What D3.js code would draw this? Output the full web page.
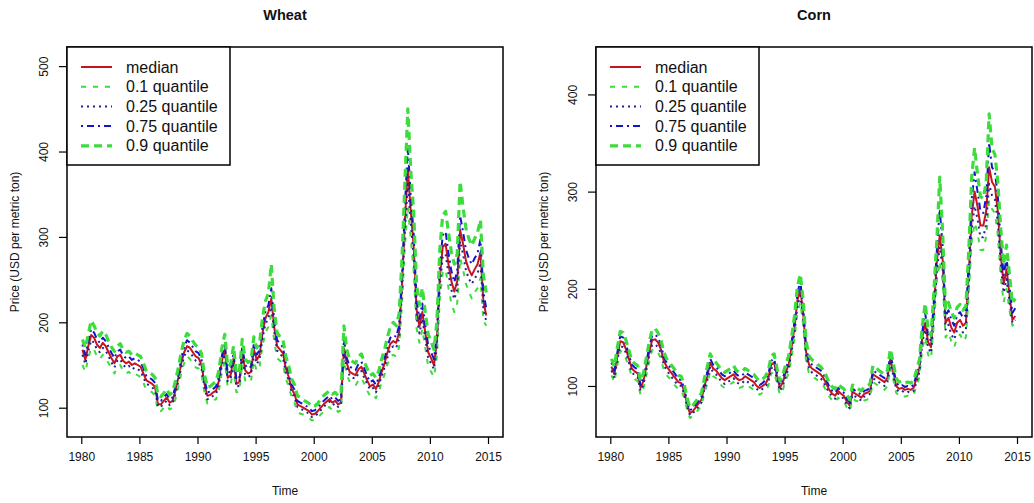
<!DOCTYPE html>
<html><head><meta charset="utf-8">
<script src="https://cdn.jsdelivr.net/npm/d3@7"></script>
<style>
html,body{margin:0;padding:0;background:#fff;}
svg{display:block;font-family:"Liberation Sans",Arial,Helvetica,sans-serif;}
</style></head>
<body><svg id="chart" width="1034" height="503"></svg>
<script>
// Quarterly samples starting 1980.1
const startYear = 1980.1, stepYears = 0.25;
const seriesNames = ["median","0.1 quantile","0.25 quantile","0.75 quantile","0.9 quantile"];
const xTicks = [1980,1985,1990,1995,2000,2005,2010,2015];
const wheatYTicks = [100,200,300,400,500];
const cornYTicks = [100,200,300,400];

const wheatMedian = [168,156,172,185, 182,174,170,176, 172,165,158,152, 160,162,155,152, 154,150,152,150,
 148,140,132,130, 128,124,104,104, 108,112,106,108, 120,135,152,165, 172,170,165,160,
 158,150,128,114, 115,118,120,132, 155,168,135,138, 158,128,130,165, 144,140,142,168,
 156,162,188,205, 212,228,195,172, 168,164,146,136, 122,116,104,102, 100,98,96,92,
 93,96,100,104, 107,110,106,108, 104,106,170,152, 142,140,138,145, 148,140,132,125,
 127,122,130,142, 152,165,175,178, 176,188,245,320, 380,330,290,215, 195,212,188,165,
 158,150,178,252, 288,292,268,248, 236,248,308,292, 272,262,255,262, 268,282,225,208];
const wheatQ10 = [150,142,158,170, 168,160,157,162, 158,152,146,140, 148,150,143,140, 142,138,140,138,
 136,129,121,120, 118,114,96,96, 100,103,98,100, 110,124,140,152, 160,157,152,147,
 146,138,118,105, 106,109,110,121, 142,154,124,127, 146,118,119,152, 132,129,131,155,
 143,149,173,188, 195,208,178,158, 155,151,134,125, 112,106,95,93, 92,90,88,85,
 86,88,92,95, 98,101,97,99, 95,97,155,139, 130,128,126,132, 135,128,120,114,
 116,111,119,130, 139,151,160,162, 160,171,222,290, 335,298,260,193, 176,192,170,149,
 142,136,160,228, 258,262,240,222, 212,222,275,262, 245,236,228,235, 240,252,202,196];
const wheatQ25 = [162,151,166,179, 176,168,165,170, 167,160,153,147, 155,157,150,147, 149,145,147,145,
 143,135,128,126, 124,120,101,101, 105,108,103,105, 116,131,147,160, 167,165,160,155,
 153,145,124,110, 111,114,116,128, 150,163,131,134, 153,124,126,160, 139,136,138,163,
 151,157,182,198, 205,218,189,167, 163,159,141,132, 118,112,101,99, 97,95,93,89,
 90,93,97,101, 104,107,103,105, 101,103,164,147, 137,135,134,140, 143,135,128,121,
 123,118,126,137, 147,159,169,172, 170,181,236,308, 362,318,278,206, 187,204,181,158,
 152,145,171,243, 276,280,257,238, 227,238,295,280, 261,251,245,251, 257,270,216,201];
const wheatQ75 = [174,162,178,192, 188,180,176,182, 178,171,164,158, 166,168,161,158, 160,156,158,156,
 154,146,137,135, 133,129,108,108, 112,116,110,112, 125,140,158,171, 179,176,171,166,
 164,156,133,118, 119,122,125,137, 161,175,140,143, 164,133,135,172, 150,146,148,175,
 162,168,195,213, 220,240,203,179, 175,171,152,142, 127,121,108,106, 104,102,100,96,
 97,100,104,108, 111,114,110,112, 108,110,180,158, 148,146,144,151, 154,146,137,130,
 132,127,135,148, 158,172,182,185, 183,196,256,336, 405,348,305,226, 204,222,197,173,
 165,157,187,264, 302,306,281,260, 247,260,325,306, 285,275,268,275, 281,297,236,216];
const wheatQ90 = [180,170,186,202, 196,188,184,190, 186,178,171,166, 172,175,168,165, 166,162,164,162,
 160,152,143,141, 139,135,114,113, 117,122,115,118, 131,147,165,179, 187,184,178,173,
 171,163,139,124, 125,128,131,144, 170,186,148,151, 172,140,142,180, 157,153,155,183,
 170,177,206,225, 234,268,215,188, 183,180,160,149, 134,127,114,112, 109,107,105,101,
 102,105,110,114, 117,120,116,118, 114,116,196,168, 156,154,152,160, 163,154,146,138,
 140,135,143,157, 168,183,195,200, 196,210,275,365, 450,378,330,245, 220,240,212,186,
 178,168,200,285, 325,330,305,282, 268,280,365,335, 310,298,290,298, 305,320,255,235];

const cornMedian = [120,112,130,146, 145,138,128,118, 115,113,98,105, 120,135,147,148, 145,138,126,120,
 116,112,108,104, 103,95,82,72, 74,78,82,86, 100,110,124,118, 116,112,108,106,
 108,110,112,108, 106,107,110,108, 106,104,100,98, 100,102,108,122, 124,110,98,104,
 114,122,140,160, 188,200,175,135, 122,118,116,114, 112,108,102,96, 92,90,95,92,
 90,84,80,94, 92,90,88,92, 93,95,112,110, 108,106,104,108, 128,115,100,97,
 98,96,97,96, 98,108,118,150, 165,145,140,180, 228,255,230,165, 170,160,155,165,
 168,162,165,215, 275,300,285,265, 265,280,325,310, 305,280,235,205, 220,195,168,172];
const cornQ10 = [111,104,121,136, 135,128,119,110, 107,105,91,97, 111,125,137,138, 135,128,117,111,
 108,104,100,97, 96,88,76,67, 69,72,76,80, 93,102,115,110, 108,104,100,98,
 100,102,104,100, 98,99,102,100, 98,96,93,91, 93,95,100,113, 115,102,91,96,
 106,113,130,149, 175,186,163,125, 113,110,108,106, 104,100,95,89, 85,83,88,85,
 84,78,74,87, 85,84,82,85, 86,88,104,102, 100,98,96,100, 119,107,93,90,
 91,89,90,89, 91,100,109,139, 150,132,128,165, 208,228,208,150, 155,146,140,150,
 153,146,150,196, 248,268,258,240, 240,254,290,282, 278,255,212,186, 200,178,162,165];
const cornQ25 = [116,108,126,141, 140,134,124,114, 111,109,95,101, 116,131,142,143, 140,134,122,116,
 112,108,104,101, 100,92,79,70, 72,75,79,83, 97,106,120,114, 112,108,104,102,
 104,106,108,104, 102,103,106,104, 102,100,97,95, 97,99,104,118, 120,106,95,100,
 110,118,135,155, 182,193,169,130, 118,114,112,110, 108,104,98,93, 89,87,92,89,
 87,81,77,91, 89,87,85,89, 90,92,108,106, 104,102,100,104, 124,111,97,94,
 95,93,94,93, 95,104,114,145, 158,139,134,173, 218,243,220,158, 163,153,148,158,
 161,155,158,206, 262,285,272,253, 253,267,308,296, 292,268,224,196, 210,187,165,168];
const cornQ75 = [124,116,134,151, 150,143,132,122, 119,117,101,109, 124,140,152,153, 150,143,130,124,
 120,116,112,107, 106,98,85,75, 77,81,85,89, 104,114,128,122, 120,116,112,110,
 112,114,116,112, 110,111,114,112, 110,108,104,101, 103,106,112,126, 128,114,101,108,
 118,126,145,166, 195,208,181,140, 126,122,120,118, 116,112,106,99, 95,93,98,95,
 93,87,83,97, 95,93,91,95, 96,98,116,114, 112,110,108,112, 133,119,104,100,
 101,99,100,99, 101,112,122,156, 175,152,146,189, 239,282,244,172, 178,168,162,173,
 176,170,173,228, 292,320,300,280, 278,295,350,325, 320,295,248,214, 232,204,175,180];
const cornQ90 = [128,120,139,156, 155,147,137,126, 123,121,105,113, 129,145,158,159, 155,148,135,128,
 124,120,116,111, 110,102,88,78, 80,84,88,93, 108,120,133,127, 124,120,116,114,
 116,118,121,116, 114,115,118,116, 114,112,108,105, 107,110,116,131, 133,118,105,112,
 122,131,150,172, 202,215,188,146, 131,127,125,122, 120,116,110,103, 99,97,102,99,
 97,91,86,101, 99,97,95,99, 100,102,121,119, 116,114,112,116, 138,124,108,104,
 105,103,104,103, 105,116,127,162, 185,158,152,198, 250,315,258,180, 186,176,170,181,
 184,178,182,240, 315,345,318,295, 293,310,380,345, 338,310,262,225, 245,215,185,190];

const styles = [
  {color:"#c8141e", width:2,   dash:null},
  {color:"#3ddc3d", width:2,   dash:"5,7"},
  {color:"#23238a", width:2,   dash:"2,4"},
  {color:"#1414c8", width:2,   dash:"2,4,7,4"},
  {color:"#3ddc3d", width:3.2, dash:"8,5"}
];

const svg = d3.select("#chart");

function panel(opt){
  const {left, right, top, bottom, title, yDomain, yTicks, series} = opt;
  const x = d3.scaleLinear().domain([1978.77, 2016.29]).range([left, right]);
  const y = d3.scaleLinear().domain(yDomain).range([bottom, top]);
  const g = svg.append("g");

  // lines
  const line = d3.line().x((d,i)=>x(startYear + i*stepYears)).y(d=>y(d));
  series.forEach((s,k)=>{
    const st = styles[k];
    g.append("path").datum(s).attr("d", line)
      .attr("fill","none").attr("stroke", st.color).attr("stroke-width", st.width)
      .attr("stroke-dasharray", st.dash).attr("stroke-linejoin","round");
  });

  // box
  g.append("rect").attr("x", left).attr("y", top).attr("width", right-left).attr("height", bottom-top)
    .attr("fill","none").attr("stroke","#000").attr("stroke-width",1.5);

  // x axis
  const xa = g.append("g").attr("transform", `translate(0,${bottom})`)
    .call(d3.axisBottom(x).tickValues(xTicks).tickFormat(d3.format("d")).tickSize(7).tickSizeOuter(0).tickPadding(8));
  xa.select(".domain").remove();
  xa.selectAll("line").attr("stroke","#000").attr("stroke-width",1.2);
  xa.selectAll("text").attr("font-size","12px").attr("fill","#111")
    .attr("font-family",'"Liberation Sans",Arial,sans-serif');

  // y axis
  const ya = g.append("g").attr("transform", `translate(${left},0)`)
    .call(d3.axisLeft(y).tickValues(yTicks).tickFormat(d3.format("d")).tickSize(8).tickSizeOuter(0));
  ya.select(".domain").remove();
  ya.selectAll("line").attr("stroke","#000").attr("stroke-width",1.2);
  ya.selectAll("text").remove();
  ya.selectAll(".tick").append("text")
    .attr("transform", `translate(${-19},0) rotate(-90)`)
    .attr("text-anchor","middle").attr("font-size","12px").attr("fill","#111")
    .text(d=>d);

  // title
  svg.append("text").attr("x",(left+right)/2).attr("y",20).attr("text-anchor","middle")
    .attr("font-weight","bold").attr("font-size","14.5px").attr("fill","#111").text(title);
  // axis titles
  svg.append("text").attr("x",(left+right)/2).attr("y",495).attr("text-anchor","middle")
    .attr("font-size","12px").attr("fill","#111").text("Time");
  svg.append("text").attr("transform",`translate(${left-48},${(top+bottom)/2}) rotate(-90)`)
    .attr("text-anchor","middle").attr("font-size","12px").attr("fill","#111")
    .text("Price (USD per metric ton)");

  // legend
  const lg = svg.append("g");
  lg.append("rect").attr("x",left).attr("y",top).attr("width",163).attr("height",118)
    .attr("fill","#fff").attr("stroke","#000").attr("stroke-width",1.5);
  seriesNames.forEach((name,k)=>{
    const st = styles[k];
    const yy = top + 20 + k*19.7;
    lg.append("line").attr("x1",left+14).attr("x2",left+45).attr("y1",yy).attr("y2",yy)
      .attr("stroke",st.color).attr("stroke-width",st.width).attr("stroke-dasharray",st.dash);
    lg.append("text").attr("x",left+59).attr("y",yy+5.5).attr("font-size","16px").attr("fill","#111").text(name);
  });
}

panel({left:67, right:503, top:47, bottom:437, title:"Wheat", yDomain:[65.7,522.4], yTicks:wheatYTicks,
  series:[wheatMedian, wheatQ10, wheatQ25, wheatQ75, wheatQ90]});
panel({left:596, right:1032, top:47, bottom:437, title:"Corn", yDomain:[47.5,448.8], yTicks:cornYTicks,
  series:[cornMedian, cornQ10, cornQ25, cornQ75, cornQ90]});
</script></body></html>
